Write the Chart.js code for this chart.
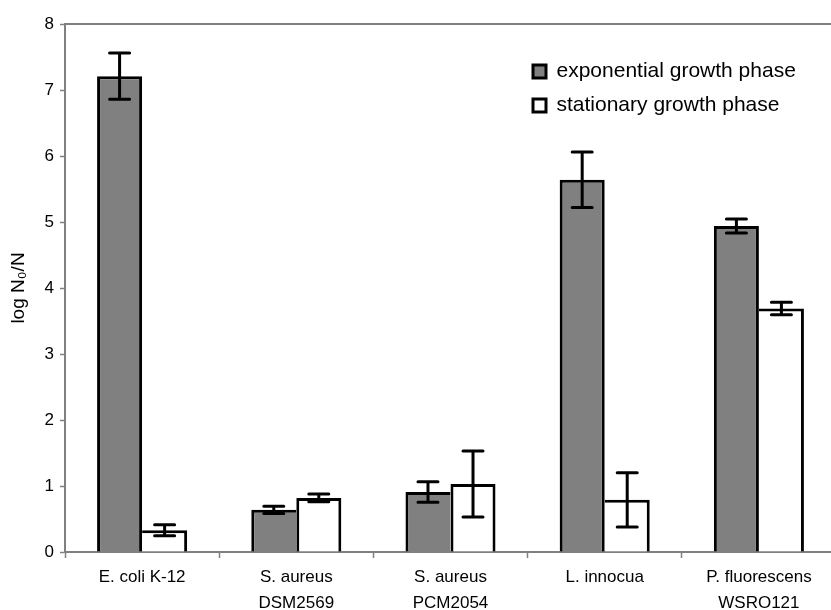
<!DOCTYPE html>
<html>
<head>
<meta charset="utf-8">
<script src="https://cdn.jsdelivr.net/npm/chart.js@4.4.1/dist/chart.umd.min.js"></script>
<style>
  html, body { margin: 0; padding: 0; background: #fff; overflow: hidden; }
  #wrap { position: relative; width: 838px; height: 610px; }
</style>
</head>
<body>
<div id="wrap"><canvas id="c"></canvas></div>
<script>
// ---- data ----
const categories = [
  'E. coli K-12',
  ['S. aureus', 'DSM2569'],
  ['S. aureus', 'PCM2054'],
  'L. innocua',
  ['P. fluorescens', 'WSRO121']
];
const seriesNames = ['exponential growth phase', 'stationary growth phase'];
const expValues = [7.21, 0.64, 0.91, 5.64, 4.94];
const expErrors = [0.35, 0.055, 0.155, 0.42, 0.105];
const statValues = [0.33, 0.82, 1.03, 0.79, 3.69];
const statErrors = [0.083, 0.06, 0.5, 0.41, 0.095];
const yTicksMin = 0, yTicksMax = 8, yTickStep = 1;
const yTitle = 'log N\u2080/N';

const FONT = "'Liberation Sans', Arial, Helvetica, sans-serif";
const AXIS_GREY = '#808080';

// border widths so the shared middle line is a single 3px line
function expBorder(ctx) {
  const i = ctx.dataIndex;
  if (i === undefined) return 3;
  const right = expValues[i] >= statValues[i] ? 3 : 0;
  return { top: 3, left: 3, right: right, bottom: 0 };
}
function statBorder(ctx) {
  const i = ctx.dataIndex;
  if (i === undefined) return 3;
  const left = statValues[i] > expValues[i] ? 3 : 0;
  return { top: 3, left: left, right: 3, bottom: 0 };
}

const errorBarPlugin = {
  id: 'errorBars',
  afterDatasetsDraw(chart) {
    const ctx = chart.ctx;
    const yScale = chart.scales.y;
    const errs = [expErrors, statErrors];
    const vals = [expValues, statValues];
    ctx.save();
    ctx.strokeStyle = '#000';
    ctx.lineWidth = 3;
    ctx.lineCap = 'round';
    chart.data.datasets.forEach((ds, di) => {
      const meta = chart.getDatasetMeta(di);
      meta.data.forEach((bar, j) => {
        const v = vals[di][j], e = errs[di][j];
        const x = bar.x;
        const yT = yScale.getPixelForValue(v + e);
        const yB = yScale.getPixelForValue(v - e);
        const hw = 10;
        ctx.beginPath();
        ctx.moveTo(x, yT); ctx.lineTo(x, yB);
        ctx.moveTo(x - hw, yT); ctx.lineTo(x + hw, yT);
        ctx.moveTo(x - hw, yB); ctx.lineTo(x + hw, yB);
        ctx.stroke();
      });
    });
    ctx.restore();
  }
};

const frameAndLegendPlugin = {
  id: 'frameAndLegend',
  afterLayout(chart) {
    const lg = chart.legend;
    if (!lg) return;
    const w = lg.width, h = lg.height;
    lg.left = 520; lg.top = 48;
    lg.right = lg.left + w; lg.bottom = lg.top + h;
  },
  beforeDatasetsDraw(chart) {
    const a = chart.chartArea;
    const ctx = chart.ctx;
    ctx.save();
    ctx.strokeStyle = AXIS_GREY;
    ctx.lineWidth = 2;
    ctx.beginPath();
    ctx.moveTo(a.left, a.top);
    ctx.lineTo(a.right + 5, a.top);
    ctx.stroke();
    ctx.restore();
  }
};

new Chart(document.getElementById('c'), {
  type: 'bar',
  data: {
    labels: categories,
    datasets: [
      {
        label: seriesNames[0],
        data: expValues,
        backgroundColor: '#808080',
        borderColor: '#000',
        borderWidth: expBorder,
        borderSkipped: false,
        categoryPercentage: 0.584,
        barPercentage: 1.0
      },
      {
        label: seriesNames[1],
        data: statValues,
        backgroundColor: '#ffffff',
        borderColor: '#000',
        borderWidth: statBorder,
        borderSkipped: false,
        categoryPercentage: 0.584,
        barPercentage: 1.0
      }
    ]
  },
  options: {
    responsive: true,
    maintainAspectRatio: false,
    animation: false,
    devicePixelRatio: 1,
    layout: { padding: { top: 24, right: 2, bottom: 0, left: 0 } },
    plugins: {
      tooltip: { enabled: false },
      legend: {
        display: true,
        position: 'chartArea',
        align: 'start',
        labels: {
          boxWidth: 13,
          boxHeight: 13,
          padding: 13,
          color: '#000',
          font: { family: FONT, size: 21 },
          generateLabels(chart) {
            return chart.data.datasets.map((ds, i) => ({
              text: ds.label,
              fillStyle: ds.backgroundColor,
              strokeStyle: '#000',
              lineWidth: 3,
              hidden: false,
              datasetIndex: i,
              fontColor: '#000'
            }));
          }
        }
      }
    },
    scales: {
      x: {
        offset: true,
        grid: {
          display: true,
          offset: true,
          drawOnChartArea: false,
          drawTicks: true,
          tickLength: 6,
          tickWidth: 1.5,
          color: AXIS_GREY
        },
        border: { display: true, color: AXIS_GREY, width: 2 },
        ticks: {
          color: '#000',
          padding: 6,
          maxRotation: 0,
          autoSkip: false,
          font: { family: FONT, size: 17, lineHeight: 1.53 }
        },
        afterFit(scale) { scale.height = 58; }
      },
      y: {
        min: yTicksMin,
        max: yTicksMax,
        grid: {
          display: true,
          drawOnChartArea: false,
          drawTicks: true,
          tickLength: 5,
          tickWidth: 1.5,
          color: AXIS_GREY
        },
        border: { display: true, color: AXIS_GREY, width: 2 },
        ticks: {
          stepSize: yTickStep,
          color: '#000',
          padding: 6,
          font: { family: FONT, size: 17 }
        },
        title: {
          display: true,
          text: yTitle,
          color: '#000',
          font: { family: FONT, size: 19 },
          padding: { top: 7, bottom: 0 }
        },
        afterFit(scale) { scale.width = 65; }
      }
    }
  },
  plugins: [errorBarPlugin, frameAndLegendPlugin]
});
</script>
</body>
</html>
